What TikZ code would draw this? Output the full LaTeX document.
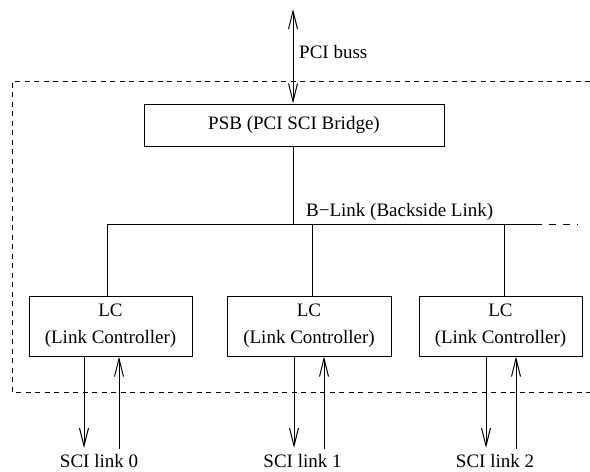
\documentclass[tikz,border=0pt]{standalone}
\usepackage{fontspec}
\setmainfont{Liberation Serif}
\usetikzlibrary{arrows.meta}

\tikzset{
  unit/.style={draw, line width=1pt, fill=white, align=center, inner sep=0pt},
  wire/.style={line width=1pt},
  sigarrow/.style={line width=1pt, -{Straight Barb[length=18pt, width=9pt, line width=1pt]}},
  busarrow/.style={line width=1pt, {Straight Barb[length=18pt, width=9pt, line width=1pt]}-{Straight Barb[length=18pt, width=9pt, line width=1pt]}},
  frame/.style={line width=1pt, dash pattern=on 5pt off 4.5pt},
  busext/.style={line width=1pt, dash pattern=on 7pt off 7pt},
  lbl/.style={inner sep=0pt}
}

\begin{document}
\begin{tikzpicture}[x=1pt, y=-1pt, font=\fontsize{19}{27}\selectfont]
\useasboundingbox (0,0) rectangle (590,472);

% board outline (open to the right)
\draw[frame] (590,81) -- (12,81) -- (12,392) -- (590,392);

% bridge
\node[unit, minimum width=300pt, minimum height=42pt] (psb) at (294,125) {PSB (PCI SCI Bridge)};

% PCI bus connection
\coordinate (pcitop) at (293,9);
\draw[busarrow] (pcitop) -- (pcitop |- psb.north);
\node[lbl, anchor=base west] (pcilbl) at (299,58) {PCI buss};

% backside link
\coordinate (busL) at (107,224);
\coordinate (busR) at (535,224);
\coordinate (busE) at (578,224);
\draw[wire] (busL) -- (busR);
\draw[busext] (busR) -- (busE);
\draw[wire] (psb.south -| 293,0) -- (busL -| 293,0);
\node[lbl, anchor=base west] (blinklbl) at (306,216) {B−Link (Backside Link)};

% link controllers
\node[unit, minimum width=163pt, minimum height=60pt] (lc0) at (110.5,326) {LC\\(Link Controller)};
\node[unit, minimum width=164pt, minimum height=60pt] (lc1) at (309,326) {LC\\(Link Controller)};
\node[unit, minimum width=163pt, minimum height=60pt] (lc2) at (500.5,326) {LC\\(Link Controller)};

\coordinate (t0) at (107,224);
\coordinate (t1) at (312,224);
\coordinate (t2) at (504,224);
\draw[wire] (t0) -- (t0 |- lc0.north);
\draw[wire] (t1) -- (t1 |- lc1.north);
\draw[wire] (t2) -- (t2 |- lc2.north);

% SCI links
\coordinate (d0) at (84,448);
\coordinate (u0) at (119,449);
\coordinate (d1) at (294,448);
\coordinate (u1) at (324,449);
\coordinate (d2) at (486,448);
\coordinate (u2) at (516,449);
\draw[sigarrow] (d0 |- lc0.south) -- (d0);
\draw[sigarrow] (u0) -- (u0 |- lc0.south);
\draw[sigarrow] (d1 |- lc1.south) -- (d1);
\draw[sigarrow] (u1) -- (u1 |- lc1.south);
\draw[sigarrow] (d2 |- lc2.south) -- (d2);
\draw[sigarrow] (u2) -- (u2 |- lc2.south);

\node[lbl, anchor=base] (sci0) at (99,467) {SCI link 0};
\node[lbl, anchor=base] (sci1) at (302.5,467) {SCI link 1};
\node[lbl, anchor=base] (sci2) at (495,467) {SCI link 2};
\end{tikzpicture}
\end{document}
